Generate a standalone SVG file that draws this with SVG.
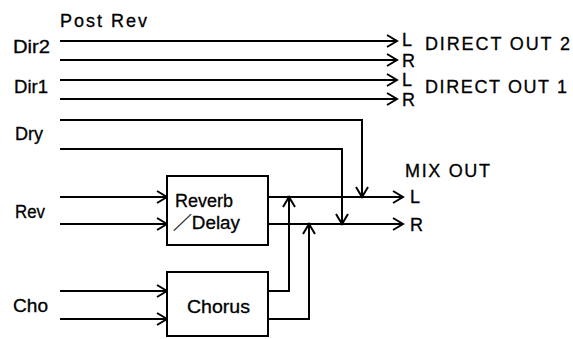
<svg xmlns="http://www.w3.org/2000/svg" width="573" height="339" viewBox="0 0 573 339">
<style>
text{font-family:"Liberation Sans",Arial,"Noto Sans CJK JP",sans-serif;font-size:18px;fill:#000;stroke:#000;stroke-width:0.3}
.w{fill:none;stroke:#000;stroke-width:2}
.a{marker-end:url(#ah)}
.box{fill:#fff;stroke:#000;stroke-width:2}
</style>
<defs>
<marker id="ah" viewBox="-12 -8 14 16" refX="0" refY="0" markerWidth="14" markerHeight="16" markerUnits="userSpaceOnUse" orient="auto">
<path d="M-10,-6 L0,0 L-10,6" fill="none" stroke="#000" stroke-width="2"/>
</marker>
</defs>
<rect width="573" height="339" fill="#fff"/>
<g id="connectors">
<path class="w a" d="M60,41 H397"/>
<path class="w a" d="M60,60 H397"/>
<path class="w a" d="M60,80 H397"/>
<path class="w a" d="M60,99 H397"/>
<path class="w a" d="M60,120 H362 V197"/>
<path class="w a" d="M60,149 H342 V224"/>
<path class="w a" d="M60,197 H167"/>
<path class="w a" d="M60,224 H167"/>
<path class="w a" d="M60,291 H167"/>
<path class="w a" d="M60,319 H167"/>
<path class="w a" d="M268,197 H403"/>
<path class="w a" d="M268,224 H403"/>
<path class="w a" d="M268,291 H289 V197"/>
<path class="w a" d="M268,319 H309 V224"/>
</g>
<g id="title"><text x="60" y="27" textLength="87" lengthAdjust="spacing">Post Rev</text></g>
<g id="in-dir2"><text x="13" y="53" textLength="37" lengthAdjust="spacingAndGlyphs">Dir2</text></g>
<g id="in-dir1"><text x="14" y="93" textLength="34" lengthAdjust="spacingAndGlyphs">Dir1</text></g>
<g id="in-dry"><text x="15" y="140" textLength="28" lengthAdjust="spacingAndGlyphs">Dry</text></g>
<g id="in-rev"><text x="15" y="218" textLength="30" lengthAdjust="spacingAndGlyphs">Rev</text></g>
<g id="in-cho"><text x="13" y="312" textLength="35" lengthAdjust="spacingAndGlyphs">Cho</text></g>
<g id="reverb-delay">
<rect class="box" x="167" y="176" width="101" height="69"/>
<text x="175" y="207" textLength="58" lengthAdjust="spacingAndGlyphs">Reverb</text>
<text x="173" y="229" textLength="67" lengthAdjust="spacingAndGlyphs">／Delay</text>
</g>
<g id="chorus">
<rect class="box" x="167" y="272" width="101" height="64"/>
<text x="187" y="313" textLength="63" lengthAdjust="spacingAndGlyphs">Chorus</text>
</g>
<g id="direct-out-2">
<text x="402" y="46">L</text>
<text x="402" y="67">R</text>
<text x="425" y="50" textLength="145" lengthAdjust="spacing">DIRECT OUT 2</text>
</g>
<g id="direct-out-1">
<text x="402" y="86">L</text>
<text x="402" y="106">R</text>
<text x="425" y="93" textLength="142" lengthAdjust="spacing">DIRECT OUT 1</text>
</g>
<g id="mix-out">
<text x="405" y="177" textLength="85" lengthAdjust="spacing">MIX OUT</text>
<text x="410" y="203">L</text>
<text x="410" y="231">R</text>
</g>
</svg>
